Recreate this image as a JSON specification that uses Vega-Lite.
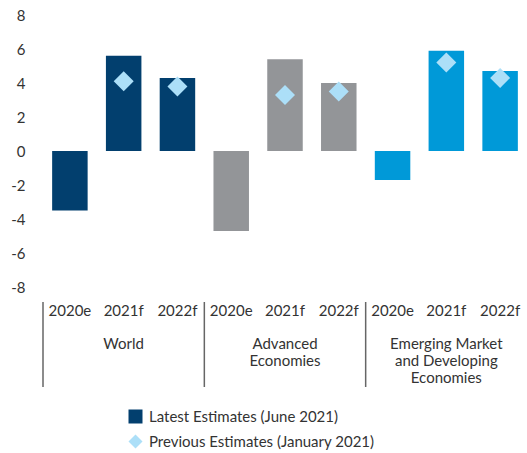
{
  "$schema": "https://vega.github.io/schema/vega-lite/v6.json",
  "padding": {"left": 10, "top": 8, "right": 0, "bottom": 0},
  "autosize": {"type": "pad"},
  "config": {"view": {"stroke": null}, "font": "Lato", "concat": {"spacing": 6}, "axisY": {"labelOverlap": false}},
  "data": {"values": [
    {"group": "World", "groupLabel": "World", "year": "2020e", "key": "World 2020e", "series": "Latest Estimates (June 2021)", "value": -3.5},
    {"group": "World", "groupLabel": "World", "year": "2021f", "key": "World 2021f", "series": "Latest Estimates (June 2021)", "value": 5.6},
    {"group": "World", "groupLabel": "World", "year": "2021f", "key": "World 2021f", "series": "Previous Estimates (January 2021)", "value": 4.1},
    {"group": "World", "groupLabel": "World", "year": "2022f", "key": "World 2022f", "series": "Latest Estimates (June 2021)", "value": 4.3},
    {"group": "World", "groupLabel": "World", "year": "2022f", "key": "World 2022f", "series": "Previous Estimates (January 2021)", "value": 3.8},
    {"group": "Advanced Economies", "groupLabel": "Advanced\nEconomies", "year": "2020e", "key": "AE 2020e", "series": "Latest Estimates (June 2021)", "value": -4.7},
    {"group": "Advanced Economies", "groupLabel": "Advanced\nEconomies", "year": "2021f", "key": "AE 2021f", "series": "Latest Estimates (June 2021)", "value": 5.4},
    {"group": "Advanced Economies", "groupLabel": "Advanced\nEconomies", "year": "2021f", "key": "AE 2021f", "series": "Previous Estimates (January 2021)", "value": 3.3},
    {"group": "Advanced Economies", "groupLabel": "Advanced\nEconomies", "year": "2022f", "key": "AE 2022f", "series": "Latest Estimates (June 2021)", "value": 4.0},
    {"group": "Advanced Economies", "groupLabel": "Advanced\nEconomies", "year": "2022f", "key": "AE 2022f", "series": "Previous Estimates (January 2021)", "value": 3.5},
    {"group": "Emerging Market and Developing Economies", "groupLabel": "Emerging Market\nand Developing\nEconomies", "year": "2020e", "key": "EMDE 2020e", "series": "Latest Estimates (June 2021)", "value": -1.7},
    {"group": "Emerging Market and Developing Economies", "groupLabel": "Emerging Market\nand Developing\nEconomies", "year": "2021f", "key": "EMDE 2021f", "series": "Latest Estimates (June 2021)", "value": 5.9},
    {"group": "Emerging Market and Developing Economies", "groupLabel": "Emerging Market\nand Developing\nEconomies", "year": "2021f", "key": "EMDE 2021f", "series": "Previous Estimates (January 2021)", "value": 5.2},
    {"group": "Emerging Market and Developing Economies", "groupLabel": "Emerging Market\nand Developing\nEconomies", "year": "2022f", "key": "EMDE 2022f", "series": "Latest Estimates (June 2021)", "value": 4.7},
    {"group": "Emerging Market and Developing Economies", "groupLabel": "Emerging Market\nand Developing\nEconomies", "year": "2022f", "key": "EMDE 2022f", "series": "Previous Estimates (January 2021)", "value": 4.3}
  ]},
  "vconcat": [
    {
      "width": 484,
      "height": 272,
      "encoding": {
        "x": {"field": "key", "type": "nominal",
              "scale": {"domain": ["World 2020e", "World 2021f", "World 2022f", "AE 2020e", "AE 2021f", "AE 2022f", "EMDE 2020e", "EMDE 2021f", "EMDE 2022f"], "paddingInner": 0.34, "paddingOuter": 0.17},
              "axis": null},
        "y": {"field": "value", "type": "quantitative", "scale": {"domain": [-8, 8], "nice": false},
              "axis": {"title": null, "values": [-8, -6, -4, -2, 0, 2, 4, 6, 8], "tickCount": 9, "labelExpr": "'' + datum.value", "labelOverlap": false, "domain": false, "ticks": false, "tickSize": 0, "grid": false, "labelFontSize": 15, "labelColor": "#333333", "labelPadding": 18, "labelFont": "Lato"}}
      },
      "layer": [
        {
          "transform": [{"filter": "datum.series === 'Latest Estimates (June 2021)'"}],
          "mark": {"type": "bar"},
          "encoding": {
            "fill": {"field": "group", "type": "nominal",
                     "scale": {"domain": ["World", "Advanced Economies", "Emerging Market and Developing Economies"], "range": ["#023F6E", "#939598", "#0099D8"]},
                     "legend": null}
          }
        },
        {
          "mark": {"type": "rule", "color": "#333333", "strokeWidth": 1.5},
          "encoding": {"y": {"datum": 0}}
        },
        {
          "transform": [{"filter": "datum.series === 'Previous Estimates (January 2021)'"}],
          "mark": {"type": "point", "filled": true, "opacity": 1, "size": 400, "strokeWidth": 0},
          "encoding": {
            "color": {"field": "series", "type": "nominal",
                      "scale": {"domain": ["Latest Estimates (June 2021)", "Previous Estimates (January 2021)"], "range": ["#023F6E", "#ACDFF8"]},
                      "legend": {"orient": "none", "legendX": 85, "legendY": 394, "title": null, "labelFontSize": 15, "labelColor": "#333333", "labelFont": "Lato", "labelLimit": 0, "symbolSize": 196, "rowPadding": 9, "labelOffset": 6, "symbolStrokeWidth": 0,
                                 "encode": {"symbols": {"update": {"size": {"signal": "datum.value === 'Previous Estimates (January 2021)' ? 400 : 196"}}}}}},
            "shape": {"field": "series", "type": "nominal",
                      "scale": {"domain": ["Latest Estimates (June 2021)", "Previous Estimates (January 2021)"], "range": ["square", "diamond"]}}
          }
        }
      ]
    },
    {
      "width": 484,
      "height": 85,
      "transform": [{"filter": "datum.series === 'Latest Estimates (June 2021)'"}],
      "encoding": {
        "x": {"field": "key", "type": "nominal",
              "scale": {"domain": ["World 2020e", "World 2021f", "World 2022f", "AE 2020e", "AE 2021f", "AE 2022f", "EMDE 2020e", "EMDE 2021f", "EMDE 2022f"], "paddingInner": 0, "paddingOuter": 0},
              "axis": null}
      },
      "layer": [
        {
          "mark": {"type": "text", "fontSize": 15, "color": "#333333", "baseline": "middle", "font": "Lato"},
          "encoding": {
            "text": {"field": "year"},
            "y": {"datum": 0.53, "type": "quantitative", "scale": {"domain": [0, 5], "reverse": true, "nice": false}, "axis": null}
          }
        },
        {
          "transform": [{"filter": "datum.year === '2021f'"}],
          "mark": {"type": "text", "fontSize": 15, "color": "#333333", "baseline": "top", "font": "Lato", "lineBreak": "\n", "lineHeight": 17},
          "encoding": {
            "text": {"field": "groupLabel"},
            "y": {"datum": 2.03, "type": "quantitative"}
          }
        },
        {
          "transform": [{"filter": "datum.year === '2020e'"}],
          "mark": {"type": "rule", "color": "#666666", "strokeWidth": 1.5},
          "encoding": {
            "x": {"field": "key", "type": "nominal", "bandPosition": 0},
            "y": {"datum": 0, "type": "quantitative"},
            "y2": {"datum": 5}
          }
        }
      ]
    }
  ]
}
